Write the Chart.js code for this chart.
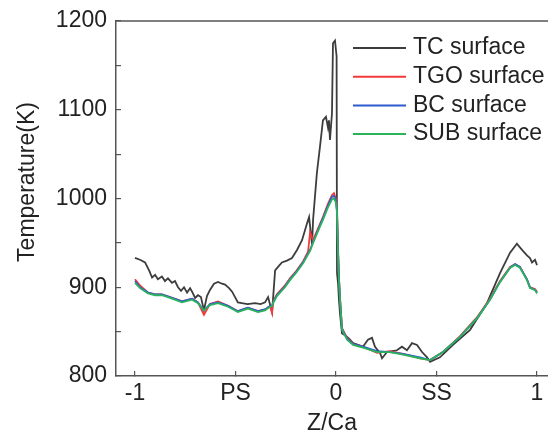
<!DOCTYPE html>
<html>
<head>
<meta charset="utf-8">
<script src="https://cdn.jsdelivr.net/npm/chart.js@4"></script>
<style>
  html, body { margin: 0; padding: 0; background: #fff; }
  #c { display: block; }
</style>
</head>
<body>
<canvas id="c" width="548" height="434"></canvas>
<script>
// TC surface
var tcX = [-1.000, -0.975, -0.950, -0.930, -0.915, -0.900, -0.886, -0.866, -0.851, -0.836,
  -0.816, -0.801, -0.786, -0.771, -0.756, -0.741, -0.726, -0.716, -0.701, -0.687,
  -0.672, -0.657, -0.642, -0.627, -0.607, -0.587, -0.567, -0.552, -0.532, -0.517,
  -0.488, -0.468, -0.440, -0.403, -0.375, -0.353, -0.338, -0.318, -0.303, -0.284,
  -0.269, -0.244, -0.219, -0.194, -0.169, -0.144, -0.134, -0.119, -0.114, -0.095,
  -0.080, -0.065, -0.050, -0.040, -0.035, -0.030, -0.020, -0.015, -0.005, 0.003,
  0.005, 0.010, 0.015, 0.020, 0.030, 0.045, 0.065, 0.085, 0.110, 0.134,
  0.159, 0.179, 0.194, 0.219, 0.229, 0.254, 0.280, 0.303, 0.328, 0.353,
  0.378, 0.403, 0.428, 0.453, 0.468, 0.517, 0.582, 0.667, 0.751, 0.816,
  0.866, 0.900, 0.915, 0.930, 0.950, 0.965, 0.975, 0.990, 1.000];
var tcY = [933, 931, 928, 919, 911, 914, 909, 912, 907, 910,
  905, 907, 900, 896, 900, 894, 899, 895, 888, 891,
  889, 874, 890, 897, 904, 906, 904, 903, 899, 895,
  883, 882, 881, 882, 881, 883, 889, 872, 919, 924,
  928, 930, 933, 942, 953, 972, 979, 948, 976, 1029,
  1058, 1088, 1092, 1080, 1088, 1066, 1096, 1175, 1178, 1160,
  916, 905, 885, 870, 848, 846, 842, 837, 835, 833,
  841, 843, 833, 826, 820, 827, 828, 829, 833, 829,
  837, 835, 827, 821, 816, 821, 835, 852, 882, 916,
  939, 949, 945, 941, 936, 933, 928, 931, 925];

// TGO / BC / SUB surfaces share the same x positions
var lowX = [-1.000, -0.975, -0.935, -0.900, -0.866, -0.826, -0.766, -0.716, -0.687, -0.657,
  -0.627, -0.587, -0.537, -0.488, -0.438, -0.388, -0.353, -0.328, -0.318, -0.313,
  -0.294, -0.254, -0.229, -0.199, -0.164, -0.139, -0.129, -0.114, -0.090, -0.065,
  -0.040, -0.020, -0.010, 0.000, 0.005, 0.010, 0.015, 0.020, 0.030, 0.055,
  0.085, 0.134, 0.204, 0.269, 0.333, 0.418, 0.468, 0.532, 0.617, 0.701,
  0.766, 0.816, 0.866, 0.891, 0.915, 0.950, 0.965, 0.990, 1.000];
var tgoY = [909, 902, 894, 892, 892, 889, 884, 887, 883, 869,
  881, 884, 879, 873, 877, 873, 875, 879, 871, 884,
  892, 902, 910, 918, 929, 940, 962, 953, 966, 979,
  994, 1004, 1006, 999, 988, 945, 910, 888, 854, 843,
  836, 833, 826, 828, 825, 820, 818, 827, 845, 866,
  887, 907, 923, 926, 923, 909, 900, 898, 895];
var bcY = [907, 900, 894, 892, 892, 889, 884, 887, 883, 874,
  881, 883, 879, 873, 877, 873, 875, 879, 879, 883,
  891, 901, 909, 917, 928, 938, 942, 951, 964, 978,
  992, 1002, 1003, 997, 986, 942, 909, 887, 853, 842,
  836, 833, 828, 827, 825, 821, 818, 827, 844, 865,
  886, 906, 922, 926, 923, 909, 900, 897, 894];
var subY = [905, 899, 893, 891, 891, 888, 883, 886, 882, 874,
  880, 882, 878, 872, 876, 872, 874, 878, 879, 882,
  890, 900, 908, 916, 927, 937, 941, 950, 963, 976,
  990, 999, 1000, 995, 984, 940, 908, 886, 852, 841,
  835, 832, 827, 827, 824, 820, 818, 827, 844, 865,
  886, 906, 922, 925, 922, 908, 899, 897, 893];

var seriesNames = ["TC surface", "TGO surface", "BC surface", "SUB surface"];
var xTickVals = [-1, -0.5, 0, 0.5, 1];
var xTickLabels = ["-1", "PS", "0", "SS", "1"];
var yTitle = "Temperature(K)";

function pts(xs, ys) {
  return xs.map(function (x, i) { return { x: x, y: ys[i] }; });
}

var FONT = "'Liberation Sans', Arial, sans-serif";

// legend drawn inside the plot, top right
var legendPlugin = {
  id: 'innerLegend',
  afterDraw: function (chart) {
    var ctx = chart.ctx;
    ctx.save();
    ctx.font = "23px " + FONT;
    ctx.textBaseline = 'middle';
    ctx.fillStyle = '#222';
    chart.data.datasets.forEach(function (ds, i) {
      var y = 48 + i * 28.7;
      ctx.strokeStyle = ds.borderColor;
      ctx.lineWidth = 2;
      ctx.beginPath();
      ctx.moveTo(353, y);
      ctx.lineTo(406, y);
      ctx.stroke();
      ctx.fillText(ds.label, 413, y);
    });
    ctx.restore();
  }
};

// top frame line + y title (sits a bit above the axis centre in the original)
var framePlugin = {
  id: 'frameTop',
  afterDraw: function (chart) {
    var a = chart.chartArea, ctx = chart.ctx;
    ctx.save();
    ctx.strokeStyle = '#555';
    ctx.lineWidth = 1.5;
    ctx.beginPath();
    ctx.moveTo(a.left, a.top);
    ctx.lineTo(a.right, a.top);
    ctx.stroke();
    ctx.translate(28, 182);
    ctx.rotate(-Math.PI / 2);
    ctx.font = "23px " + FONT;
    ctx.fillStyle = '#222';
    ctx.textAlign = 'center';
    ctx.textBaseline = 'middle';
    ctx.fillText(yTitle, 0, 0);
    ctx.restore();
  }
};

var colors = ['#3d3d3d', '#f23a3a', '#2f5bd0', '#2bb35c'];
var ctx = document.getElementById('c').getContext('2d');
var chart = new Chart(ctx, {
  type: 'line',
  data: {
    datasets: [
      { label: seriesNames[0], data: pts(tcX, tcY), borderColor: colors[0], order: 3 },
      { label: seriesNames[1], data: pts(lowX, tgoY), borderColor: colors[1], order: 2 },
      { label: seriesNames[2], data: pts(lowX, bcY), borderColor: colors[2], order: 1 },
      { label: seriesNames[3], data: pts(lowX, subY), borderColor: colors[3], order: 0 }
    ]
  },
  options: {
    responsive: false,
    animation: false,
    devicePixelRatio: 1,
    layout: { padding: { top: 21, right: 0, left: 0, bottom: -3 } },
    elements: {
      point: { radius: 0 },
      line: { borderWidth: 1.8, tension: 0 }
    },
    plugins: {
      legend: { display: false },
      tooltip: { enabled: false }
    },
    scales: {
      x: {
        type: 'linear',
        min: -1.0945,
        max: 1.0547,
        afterBuildTicks: function (s) {
          s.ticks = xTickVals.map(function (v) { return { value: v }; });
        },
        afterFit: function (s) {
          s.height = 61;
          s.paddingLeft = 0;
          s.paddingRight = 0;
        },
        ticks: {
          autoSkip: false,
          maxRotation: 0,
          padding: 9,
          color: '#222',
          font: { family: FONT, size: 23 },
          callback: function (v, i) { return xTickLabels[i]; }
        },
        grid: { drawOnChartArea: false, tickLength: -5, color: '#555', lineWidth: 1.2 },
        border: { color: '#555', width: 1.5 },
        title: {
          display: true,
          text: 'Z/Ca',
          color: '#222',
          font: { family: FONT, size: 23 },
          padding: 0
        }
      },
      y: {
        min: 800,
        max: 1200,
        afterFit: function (s) {
          s.width = 116;
          s.paddingTop = 0;
          s.paddingBottom = 0;
        },
        ticks: {
          stepSize: 50,
          padding: 14,
          color: '#222',
          font: { family: FONT, size: 23 },
          callback: function (v) { return v % 100 === 0 ? String(v) : ''; }
        },
        grid: { drawOnChartArea: false, tickLength: -5, color: '#555', lineWidth: 1.2 },
        border: { color: '#555', width: 1.5 },
        title: { display: false }
      }
    }
  },
  plugins: [legendPlugin, framePlugin]
});
</script>
</body>
</html>
